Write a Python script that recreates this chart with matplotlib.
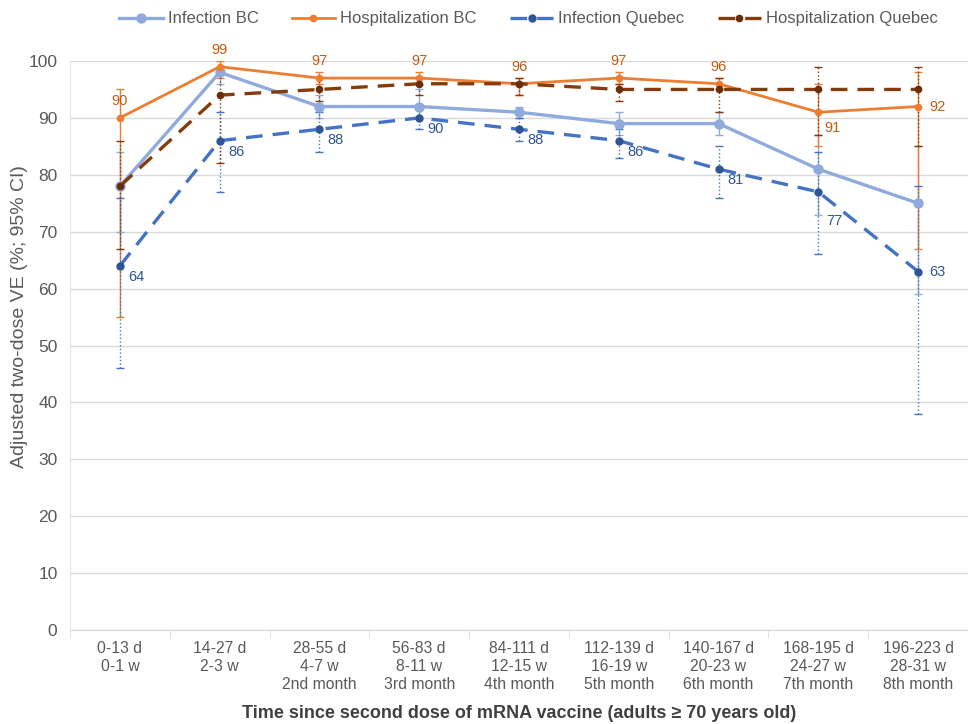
import numpy as np
import matplotlib
matplotlib.use('Agg')
from matplotlib import pyplot as plt

plt.rcParams['font.family'] = ['Liberation Sans', 'DejaVu Sans']

# categories on the x axis
cats = ['0-13 d\n0-1 w\n', '14-27 d\n2-3 w\n', '28-55 d\n4-7 w\n2nd month',
        '56-83 d\n8-11 w\n3rd month', '84-111 d\n12-15 w\n4th month',
        '112-139 d\n16-19 w\n5th month', '140-167 d\n20-23 w\n6th month',
        '168-195 d\n24-27 w\n7th month', '196-223 d\n28-31 w\n8th month']

# VE point estimates
inf_bc = [78, 98, 92, 92, 91, 89, 89, 81, 75]
hosp_bc = [90, 99, 97, 97, 96, 97, 96, 91, 92]
inf_qc = [64, 86, 88, 90, 88, 86, 81, 77, 63]
hosp_qc = [78, 94, 95, 96, 96, 95, 95, 95, 95]

# 95% CI
inf_bc_lo = [70, 96, 90, 90, 90, 87, 87, 73, 59]
inf_bc_hi = [84, 99, 94, 95, 92, 91, 91, 87, 85]
hosp_bc_lo = [55, 97, 96, 96, 94, 96, 95, 85, 67]
hosp_bc_hi = [95, 100, 98, 98, 97, 98, 97, 96, 98]
inf_qc_lo = [46, 77, 84, 88, 86, 83, 76, 66, 38]
inf_qc_hi = [76, 91, 91, 92, 90, 88, 85, 84, 78]
hosp_qc_lo = [67, 82, 93, 94, 94, 93, 91, 87, 85]
hosp_qc_hi = [86, 98, 97, 97, 97, 96, 97, 99, 99]

c_inf_bc = '#8FAADC'
c_hosp_bc = '#ED7D31'
c_inf_qc = '#4472C4'
c_hosp_qc = '#843C0C'
grey = '#595959'

x = np.arange(len(cats))

fig = plt.figure(figsize=(9.68, 7.24), dpi=100)
ax = fig.add_axes([70/968, 1-630/724, 898/968, (630-61)/724])


def err(vals, lo, hi):
    v = np.array(vals)
    return [v - np.array(lo), np.array(hi) - v]


series = [
    (inf_bc, inf_bc_lo, inf_bc_hi, c_inf_bc, c_inf_bc, '-', '-', 6.5, 2.4, 'Infection BC'),
    (hosp_bc, hosp_bc_lo, hosp_bc_hi, c_hosp_bc, c_hosp_bc, '-', '-', 4.5, 2.0, 'Hospitalization BC'),
    (inf_qc, inf_qc_lo, inf_qc_hi, c_inf_qc, '#2F5597', '--', ':', 5, 2.4, 'Infection Quebec'),
    (hosp_qc, hosp_qc_lo, hosp_qc_hi, c_hosp_qc, '#6B2E08', '--', ':', 4.5, 2.4, 'Hospitalization Quebec'),
]

handles = []
for vals, lo, hi, col, mcol, ls, els, ms, lw, lab in series:
    eb = ax.errorbar(x, vals, yerr=err(vals, lo, hi), fmt='none', ecolor=col,
                     elinewidth=1.0, capsize=3, capthick=1.0, zorder=2)
    for c in eb[2]:
        c.set_linestyle(els)
    ln, = ax.plot(x, vals, ls, color=col, lw=lw, marker='o', ms=ms,
                  mfc=mcol, mec=mcol, label=lab, zorder=3,
                  dashes=(5, 3) if ls == '--' else (None, None))
    handles.append(ln)

lab_kw = dict(textcoords='offset points', fontsize=10.5)

# data labels: hospitalization BC
for i, v in enumerate(hosp_bc):
    if i == 7:
        ax.annotate(str(v), (x[i], v), xytext=(4, -6), ha='left', va='top',
                    color='#C55A11', **lab_kw)
    elif i == 8:
        ax.annotate(str(v), (x[i], v), xytext=(8, 0), ha='left', va='center',
                    color='#C55A11', **lab_kw)
    else:
        ax.annotate(str(v), (x[i], v), xytext=(0, 7), ha='center', va='bottom',
                    color='#C55A11', **lab_kw)

# data labels: infection Quebec
for i, v in enumerate(inf_qc):
    if i == 8:
        ax.annotate(str(v), (x[i], v), xytext=(8, 0), ha='left', va='center',
                    color='#2F5597', **lab_kw)
    elif i == 7:
        ax.annotate(str(v), (x[i], v), xytext=(6, -16), ha='left', va='top',
                    color='#2F5597', **lab_kw)
    else:
        ax.annotate(str(v), (x[i], v), xytext=(6, -3), ha='left', va='top',
                    color='#2F5597', **lab_kw)

ax.set_xlim(-0.5, 8.43)
ax.set_ylim(0, 100)
ax.set_yticks(np.arange(0, 101, 10))
ax.grid(axis='y', color='#D9D9D9', lw=1)
ax.set_axisbelow(True)
for s in ['top', 'right']:
    ax.spines[s].set_visible(False)
ax.spines['left'].set_color('#E6E6E6')
ax.spines['bottom'].set_color('#D9D9D9')
ax.tick_params(axis='y', length=0, pad=9, labelsize=12.5, labelcolor=grey)
ax.set_xticks(x)
ax.set_xticklabels(cats, fontsize=11.3, color=grey, linespacing=1.25, va='top')
ax.tick_params(axis='x', length=0, pad=8)
ax.set_xticks(np.arange(-0.5, 8.6, 1), minor=True)
ax.tick_params(axis='x', which='minor', length=6, color='#D9D9D9')

fig.text(20/968, 1-317/724, 'Adjusted two-dose VE (%; 95% CI)', rotation=90,
         ha='center', va='center', fontsize=14, color=grey)
fig.text(519/968, 1-714/724,
         'Time since second dose of mRNA vaccine (adults \u2265 70 years old)',
         ha='center', va='center', fontsize=13, color='#404040', fontweight='bold')

fig.legend(handles=handles, loc='upper center', bbox_to_anchor=(0.546, 1.005), ncol=4,
           frameon=False, fontsize=12, handlelength=2.6, columnspacing=2.0,
           handletextpad=0.3, labelcolor=grey)

fig.savefig('out.png', dpi=100)
